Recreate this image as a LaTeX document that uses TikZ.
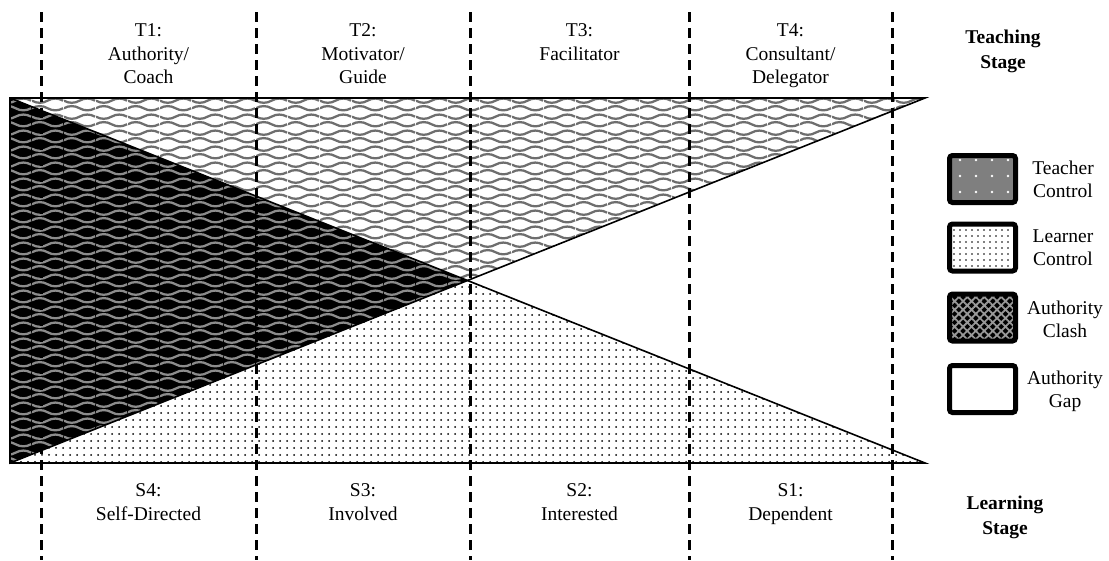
\documentclass[tikz,border=0pt]{standalone}
\usepackage{fontspec}
\setmainfont{Liberation Serif}
\usetikzlibrary{patterns,patterns.meta,calc}
\definecolor{ChainGray}{HTML}{6E6E6E}
\definecolor{KeyGray}{HTML}{7F7F7F}

\tikzdeclarepattern{
  name=chainwave,
  type=uncolored,
  bounding box={(0pt,0pt) and (32pt,16pt)},
  tile size={(32pt,16pt)},
  code={
    \draw[line width=2.4pt] (0pt,4pt) .. controls (5pt,7pt) and (11pt,7pt) .. (16pt,4pt) .. controls (21pt,1pt) and (27pt,1pt) .. (32pt,4pt);
    \draw[line width=2.4pt] (0pt,12pt) .. controls (5pt,9pt) and (11pt,9pt) .. (16pt,12pt) .. controls (21pt,15pt) and (27pt,15pt) .. (32pt,12pt);
  }
}

\tikzset{
  edgeline/.style={draw=black, line width=1.6pt},
  teacherfill/.style={pattern=chainwave, pattern color=ChainGray},
  learnerfill/.style={pattern={Dots[distance=7pt, radius=1pt]}, pattern color=black},
  clashfill/.style={preaction={fill=black}, pattern=chainwave, pattern color=black!45},
  stagedash/.style={draw=black, line width=3pt, dash pattern=on 10pt off 6pt},
  stagelabel/.style={align=center, anchor=north, inner sep=0pt, font=\fontsize{19.5}{23.5}\selectfont},
  stagehead/.style={align=center, anchor=north, inner sep=0pt, font=\fontsize{19.5}{24.5}\selectfont\bfseries},
  keybox/.style={draw=black, line width=5pt, rounded corners=3pt, minimum width=66pt, minimum height=47pt, inner sep=0pt},
  keylabel/.style={align=center, inner sep=0pt, font=\fontsize{19.5}{23}\selectfont}
}

\begin{document}
\begin{tikzpicture}[x=1pt,y=-1pt]
  \useasboundingbox (0,0) rectangle (1109,560);

  % corners of the control chart
  \coordinate (tl) at (10,98);
  \coordinate (tr) at (925,98);
  \coordinate (bl) at (10,463);
  \coordinate (br) at (925,463);
  \coordinate (mid) at ($(tl)!0.5!(br)$);

  % teacher control, learner control and the clash between them
  \path[teacherfill] (tl) -- (tr) -- (bl) -- cycle;
  \path[learnerfill] (tl) -- (br) -- (bl) -- cycle;
  \path[clashfill] (tl) -- (mid) -- (bl) -- cycle;

  \draw[edgeline] (bl) -- (tl) -- (tr) -- cycle;
  \draw[edgeline] (tl) -- (br) -- (bl);

  % stage boundaries
  \foreach \x in {41,256,470,689,892}
    \draw[stagedash] (\x,12) -- (\x,560);

  % teaching stages
  \node[stagelabel] (T1) at (148.5,23.5) {T1:\\Authority/\\Coach};
  \node[stagelabel] (T2) at (363,23.5) {T2:\\Motivator/\\Guide};
  \node[stagelabel] (T3) at (579.5,23.5) {T3:\\Facilitator};
  \node[stagelabel] (T4) at (790.5,23.5) {T4:\\Consultant/\\Delegator};
  \node[stagehead] (teachhead) at (1003,30) {Teaching\\Stage};

  % learning stages
  \node[stagelabel] (S4) at (148.5,483.5) {S4:\\Self-Directed};
  \node[stagelabel] (S3) at (363,483.5) {S3:\\Involved};
  \node[stagelabel] (S2) at (579.5,483.5) {S2:\\Interested};
  \node[stagelabel] (S1) at (790.5,483.5) {S1:\\Dependent};
  \node[stagehead] (learnhead) at (1005,496) {Learning\\Stage};

  % key
  \node[keybox, preaction={fill=KeyGray}, pattern={Dots[distance=16pt, radius=1.3pt]}, pattern color=white] (keyTC) at (982.5,179) {};
  \node[keybox, fill=white, pattern={Dots[distance=6pt, radius=0.9pt]}, pattern color=black] (keyLC) at (982.5,247.5) {};
  \node[keybox, preaction={fill=black}, pattern={Hatch[angle=45, distance=6pt, line width=1.8pt]}, pattern color=black!40] (keyAC) at (982.5,317.5) {};
  \node[keybox, fill=white] (keyAG) at (982.5,389) {};

  \node[keylabel] (labTC) at (1063,179) {Teacher\\Control};
  \node[keylabel] (labLC) at (1063,248) {Learner\\Control};
  \node[keylabel] (labAC) at (1065,319) {Authority\\Clash};
  \node[keylabel] (labAG) at (1065,391) {Authority\\Gap};
\end{tikzpicture}
\end{document}
